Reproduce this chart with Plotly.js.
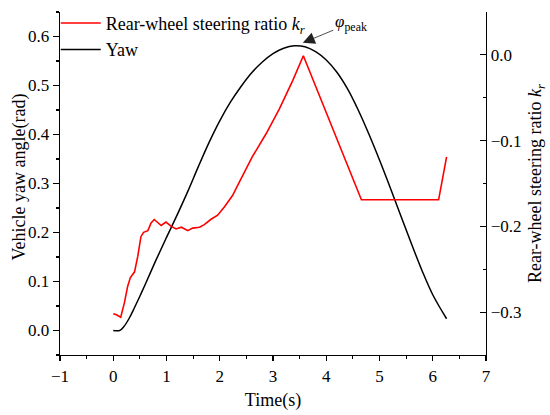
<!DOCTYPE html>
<html>
<head>
<meta charset="utf-8">
<script src="https://cdn.plot.ly/plotly-3.0.1.min.js"></script>
<style>
  html, body { margin: 0; padding: 0; background: #fff; }
  #chart { width: 550px; height: 415px; }
</style>
</head>
<body>
<div id="chart"></div>
<script>
// Yaw angle (rad), left axis
const yawTime = [0, 0.12, 0.2, 0.3, 0.4, 0.5, 0.6, 0.8, 1.0, 1.2, 1.4, 1.6, 1.8, 2.0, 2.2, 2.4, 2.6, 2.8, 3.0, 3.2, 3.4, 3.6, 3.8, 4.0, 4.2, 4.4, 4.6, 4.8, 5.0, 5.2, 5.4, 5.6, 5.8, 6.0, 6.26];
const yawValue = [0.000, 0.000, 0.008, 0.025, 0.047, 0.070, 0.094, 0.143, 0.190, 0.236, 0.284, 0.335, 0.384, 0.428, 0.466, 0.498, 0.526, 0.548, 0.565, 0.576, 0.581, 0.579, 0.569, 0.552, 0.527, 0.493, 0.450, 0.401, 0.348, 0.292, 0.234, 0.177, 0.122, 0.073, 0.024];

// Rear-wheel steering ratio k_r, right axis
const krTime = [0.00, 0.06, 0.14, 0.21, 0.27, 0.32, 0.40, 0.46, 0.52, 0.57, 0.65, 0.71, 0.77, 0.84, 0.90, 0.99, 1.09, 1.18, 1.28, 1.40, 1.49, 1.62, 1.71, 1.83, 1.96, 2.09, 2.24, 2.37, 2.61, 2.87, 3.12, 3.37, 3.57, 4.66, 6.11, 6.26];
const krValue = [-0.302, -0.303, -0.306, -0.289, -0.270, -0.260, -0.253, -0.235, -0.212, -0.207, -0.205, -0.196, -0.192, -0.196, -0.199, -0.195, -0.200, -0.203, -0.201, -0.205, -0.202, -0.201, -0.198, -0.192, -0.187, -0.177, -0.164, -0.148, -0.119, -0.092, -0.063, -0.030, -0.001, -0.169, -0.169, -0.119];

// Texts
const leftTitle = 'Vehicle yaw angle(rad)';
const peakLabel = '<i>φ</i><sub>peak</sub>';
const peakPoint = [3.56, 0.587];

const FONT = '"Liberation Serif", "Times New Roman", Times, serif';

const traces = [
  {
    x: krTime, y: krValue, yaxis: 'y2', type: 'scatter', mode: 'lines',
    name: 'Rear-wheel steering ratio <i>k</i><sub><i>r</i></sub>',
    line: { color: '#ff0000', width: 1.6 }
  },
  {
    x: yawTime, y: yawValue, yaxis: 'y', type: 'scatter', mode: 'lines',
    name: 'Yaw',
    line: { color: '#000000', width: 1.5, shape: 'spline', smoothing: 1 }
  }
];

const axisCommon = {
  showgrid: false, zeroline: false, showline: true,
  linecolor: '#000', linewidth: 1.3,
  tickcolor: '#000', tickwidth: 1.2,
  tickfont: { family: FONT, size: 17, color: '#000' }
};

const layout = {
  width: 550, height: 415,
  margin: { l: 60, r: 64, t: 12, b: 60, autoexpand: false },
  paper_bgcolor: '#fff', plot_bgcolor: '#fff',
  font: { family: FONT, color: '#000' },
  showlegend: true,
  legend: {
    x: -0.01, y: 1.021, xanchor: 'left', yanchor: 'top',
    bgcolor: 'rgba(0,0,0,0)', borderwidth: 0,
    itemwidth: 40,
    font: { family: FONT, size: 18, color: '#000' },
    traceorder: 'normal'
  },
  xaxis: Object.assign({}, axisCommon, {
    range: [-1, 7], dtick: 1, tick0: 0,
    ticks: 'outside', ticklen: 5,
    minor: { dtick: 0.5, ticks: 'outside', ticklen: 3, tickcolor: '#000', tickwidth: 1.2 },
    title: { text: 'Time(s)', font: { family: FONT, size: 18, color: '#000' }, standoff: 8 }
  }),
  yaxis: Object.assign({}, axisCommon, {
    range: [-0.05, 0.65], dtick: 0.1, tick0: 0, tickformat: '.1f',
    ticks: 'outside', ticklen: 6,
    minor: { dtick: 0.05, ticks: 'outside', ticklen: 3, tickcolor: '#000', tickwidth: 1.2 }
  }),
  yaxis2: Object.assign({}, axisCommon, {
    overlaying: 'y', side: 'right', anchor: 'x',
    range: [-0.35, 0.05], dtick: 0.1, tick0: 0, tickformat: '.1f',
    ticks: 'inside', ticklen: 6,
    minor: { dtick: 0.05, ticks: 'inside', ticklen: 3, tickcolor: '#000', tickwidth: 1.2 },
    title: { text: 'Rear-wheel steering ratio <i>k</i><sub><i>r</i></sub>', font: { family: FONT, size: 18, color: '#000' }, standoff: 8 }
  }),
  annotations: [
    {
      x: peakPoint[0], y: peakPoint[1], xref: 'x', yref: 'y',
      text: peakLabel, showarrow: true,
      ax: 48, ay: -20,
      arrowhead: 2, arrowsize: 3, arrowwidth: 0.8, arrowcolor: '#222',
      font: { family: FONT, size: 17, color: '#000' }
    },
    {
      xref: 'paper', yref: 'paper', x: -0.095, y: 0.519,
      xanchor: 'center', yanchor: 'middle', textangle: -90,
      text: leftTitle, showarrow: false,
      font: { family: FONT, size: 18, color: '#000' }
    }
  ]
};

Plotly.newPlot('chart', traces, layout, { displayModeBar: false, staticPlot: true });
</script>
</body>
</html>
